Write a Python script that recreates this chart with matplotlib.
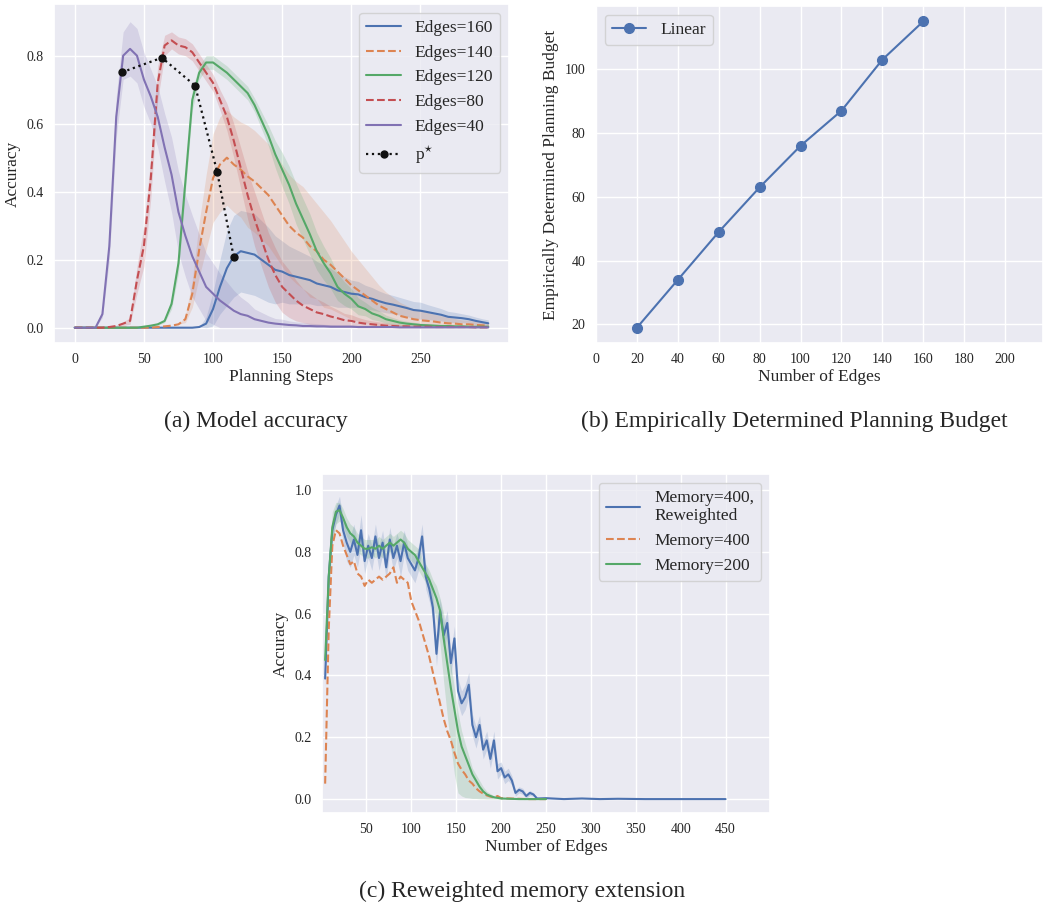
import numpy as np
import matplotlib
matplotlib.use("Agg")
import matplotlib.pyplot as plt
import seaborn as sns

# -----------------------------------------
# Panel (a): accuracy vs planning steps
# -----------------------------------------

steps = np.append(np.arange(0, 300, 5), 299)

acc_e40 = [0, 0, 0, 0, 0.04, 0.24, 0.62, 0.80, 0.82, 0.80,
           0.73, 0.68, 0.62, 0.53, 0.45, 0.34, 0.27, 0.21, 0.165, 0.12,
           0.10, 0.08, 0.065, 0.05, 0.04, 0.035, 0.025, 0.02, 0.015, 0.012,
           0.01, 0.008, 0.007, 0.005, 0.005, 0.004, 0.004, 0.003, 0.003, 0.003,
           0.003, 0.002, 0.002, 0.002, 0.002, 0.002, 0.002, 0.001, 0.001, 0.001,
           0.001, 0.001, 0.001, 0.001, 0.001, 0.001, 0.001, 0.001, 0.001, 0.001,
           0.001]
sd_e40 = [0, 0, 0, 0, 0.01, 0.04, 0.06, 0.07, 0.08, 0.08,
          0.08, 0.08, 0.09, 0.10, 0.11, 0.12, 0.12, 0.12, 0.11, 0.10,
          0.09, 0.08, 0.07, 0.06, 0.05, 0.04, 0.03, 0.025, 0.02, 0.015,
          0.015, 0.012, 0.01, 0.01, 0.008, 0.008, 0.006, 0.006, 0.005, 0.005,
          0.005, 0.004, 0.004, 0.004, 0.003, 0.003, 0.003, 0.003, 0.002, 0.002,
          0.002, 0.002, 0.002, 0.002, 0.002, 0.002, 0.002, 0.002, 0.002, 0.002,
          0.002]

acc_e80 = [0, 0, 0, 0, 0, 0.002, 0.005, 0.012, 0.02, 0.14,
           0.24, 0.44, 0.72, 0.83, 0.845, 0.83, 0.825, 0.81, 0.78, 0.75,
           0.72, 0.67, 0.62, 0.55, 0.47, 0.39, 0.32, 0.26, 0.20, 0.155,
           0.12, 0.10, 0.08, 0.065, 0.055, 0.045, 0.04, 0.033, 0.028, 0.022,
           0.02, 0.015, 0.012, 0.01, 0.008, 0.006, 0.005, 0.004, 0.004, 0.003,
           0.003, 0.003, 0.002, 0.002, 0.002, 0.002, 0.002, 0.002, 0.001, 0.001,
           0.001]
sd_e80 = [0, 0, 0, 0, 0, 0, 0.002, 0.005, 0.01, 0.04,
          0.06, 0.06, 0.05, 0.03, 0.025, 0.025, 0.025, 0.025, 0.025, 0.025,
          0.025, 0.03, 0.04, 0.05, 0.06, 0.07, 0.08, 0.08, 0.08, 0.08,
          0.075, 0.07, 0.06, 0.05, 0.045, 0.04, 0.035, 0.03, 0.025, 0.02,
          0.018, 0.015, 0.012, 0.01, 0.009, 0.008, 0.007, 0.006, 0.005, 0.005,
          0.004, 0.004, 0.004, 0.003, 0.003, 0.003, 0.003, 0.002, 0.002, 0.002,
          0.002]

acc_e120 = [0, 0, 0, 0, 0, 0, 0, 0, 0, 0,
            0.003, 0.006, 0.01, 0.02, 0.07, 0.19, 0.43, 0.67, 0.75, 0.78,
            0.78, 0.765, 0.75, 0.73, 0.71, 0.69, 0.655, 0.61, 0.565, 0.51,
            0.465, 0.42, 0.365, 0.32, 0.275, 0.225, 0.19, 0.16, 0.12, 0.10,
            0.085, 0.063, 0.055, 0.042, 0.035, 0.025, 0.02, 0.015, 0.012, 0.01,
            0.008, 0.007, 0.006, 0.005, 0.005, 0.004, 0.004, 0.003, 0.003, 0.003,
            0.003]
sd_e120 = [0, 0, 0, 0, 0, 0, 0, 0, 0, 0,
           0, 0.002, 0.003, 0.005, 0.015, 0.03, 0.03, 0.03, 0.02, 0.02,
           0.02, 0.02, 0.02, 0.02, 0.02, 0.02, 0.02, 0.025, 0.03, 0.04,
           0.05, 0.055, 0.06, 0.06, 0.06, 0.055, 0.05, 0.045, 0.04, 0.035,
           0.03, 0.025, 0.02, 0.018, 0.015, 0.012, 0.01, 0.008, 0.007, 0.006,
           0.005, 0.005, 0.004, 0.004, 0.004, 0.003, 0.003, 0.003, 0.003, 0.003,
           0.003]

acc_e140 = [0, 0, 0, 0, 0, 0, 0, 0, 0, 0,
            0, 0, 0.002, 0.004, 0.006, 0.01, 0.025, 0.10, 0.23, 0.34,
            0.44, 0.48, 0.50, 0.48, 0.465, 0.445, 0.43, 0.41, 0.39, 0.36,
            0.33, 0.30, 0.28, 0.265, 0.24, 0.225, 0.20, 0.185, 0.165, 0.145,
            0.125, 0.11, 0.095, 0.08, 0.065, 0.055, 0.045, 0.035, 0.03, 0.025,
            0.022, 0.02, 0.018, 0.015, 0.013, 0.012, 0.01, 0.01, 0.008, 0.007,
            0.006]
sd_e140 = [0, 0, 0, 0, 0, 0, 0, 0, 0, 0,
           0, 0, 0, 0, 0, 0, 0.01, 0.04, 0.08, 0.11,
           0.13, 0.14, 0.14, 0.14, 0.14, 0.15, 0.15, 0.15, 0.15, 0.15,
           0.15, 0.15, 0.15, 0.15, 0.15, 0.14, 0.14, 0.13, 0.12, 0.11,
           0.10, 0.09, 0.08, 0.07, 0.06, 0.05, 0.045, 0.04, 0.035, 0.03,
           0.028, 0.025, 0.022, 0.02, 0.018, 0.015, 0.013, 0.012, 0.01, 0.01,
           0.01]

acc_e160 = [0, 0, 0, 0, 0, 0, 0, 0, 0, 0,
            0, 0, 0, 0, 0, 0, 0, 0, 0.002, 0.012,
            0.055, 0.12, 0.175, 0.21, 0.225, 0.22, 0.215, 0.20, 0.185, 0.17,
            0.165, 0.155, 0.15, 0.145, 0.14, 0.13, 0.125, 0.12, 0.11, 0.105,
            0.10, 0.098, 0.09, 0.085, 0.078, 0.072, 0.068, 0.063, 0.058, 0.052,
            0.05, 0.046, 0.042, 0.038, 0.032, 0.03, 0.028, 0.025, 0.02, 0.016,
            0.013]
sd_e160 = [0, 0, 0, 0, 0, 0, 0, 0, 0, 0,
           0, 0, 0, 0, 0, 0, 0, 0, 0, 0.02,
           0.05, 0.08, 0.11, 0.12, 0.12, 0.12, 0.12, 0.115, 0.11, 0.10,
           0.09, 0.085, 0.08, 0.075, 0.07, 0.065, 0.06, 0.055, 0.05, 0.045,
           0.04, 0.038, 0.035, 0.033, 0.03, 0.028, 0.027, 0.026, 0.025, 0.025,
           0.025, 0.022, 0.02, 0.018, 0.016, 0.015, 0.013, 0.012, 0.011, 0.01,
           0.01]

pstar_steps = [34, 63, 87, 103, 115]
pstar_acc = [0.751, 0.794, 0.712, 0.458, 0.207]

# -----------------------------------------
# Panel (b): planning budget vs edges
# -----------------------------------------

n_edges = [20, 40, 60, 80, 100, 120, 140, 160]
budget = [19, 34, 49, 63, 76, 87, 103, 115]

# -----------------------------------------
# Panel (c): memory extension
# -----------------------------------------

edges_rw = [4, 8, 12, 16, 20, 24, 28, 32, 36, 40, 44, 48, 52, 56, 60, 64,
            68, 72, 76, 80, 84, 88, 92, 96, 100, 104, 108, 112, 116, 120,
            124, 128, 132, 136, 140, 144, 148, 152, 156, 160, 164, 168, 172,
            176, 180, 184, 188, 192, 196, 200, 204, 208, 212, 216, 220, 224,
            228, 232, 236, 240, 250, 270, 290, 310, 330, 360, 400, 450]
acc_rw = [0.39, 0.72, 0.87, 0.92, 0.95, 0.87, 0.83, 0.80, 0.84, 0.79, 0.87,
          0.77, 0.82, 0.78, 0.85, 0.78, 0.83, 0.75, 0.84, 0.78, 0.82, 0.77,
          0.83, 0.78, 0.76, 0.74, 0.78, 0.85, 0.72, 0.68, 0.62, 0.47, 0.61,
          0.53, 0.57, 0.44, 0.52, 0.35, 0.31, 0.33, 0.37, 0.24, 0.20, 0.24,
          0.16, 0.19, 0.13, 0.19, 0.09, 0.10, 0.07, 0.08, 0.06, 0.02, 0.03,
          0.025, 0.01, 0.02, 0.015, 0.002, 0.003, 0.0, 0.002, 0.0, 0.001,
          0.0, 0.0, 0.0]
sd_rw = [0.03, 0.04, 0.03, 0.03, 0.03, 0.04, 0.06, 0.05, 0.05, 0.04, 0.05,
         0.04, 0.04, 0.04, 0.04, 0.04, 0.04, 0.04, 0.04, 0.04, 0.04, 0.05,
         0.04, 0.04, 0.04, 0.04, 0.04, 0.04, 0.04, 0.04, 0.04, 0.04, 0.04,
         0.04, 0.04, 0.04, 0.04, 0.04, 0.04, 0.04, 0.04, 0.035, 0.035, 0.03,
         0.03, 0.03, 0.03, 0.03, 0.025, 0.02, 0.02, 0.02, 0.015, 0.01, 0.01,
         0.01, 0.008, 0.008, 0.006, 0.003, 0.002, 0.0, 0.001, 0.0, 0.0,
         0.0, 0.0, 0.0]

edges_mem = [4, 8, 12, 16, 20, 24, 28, 32, 36, 40, 44, 48, 52, 56, 60, 64,
             68, 72, 76, 80, 84, 88, 92, 96, 100, 104, 108, 112, 116, 120,
             124, 128, 132, 136, 140, 144, 148, 152, 156, 160, 164, 168, 172,
             176, 180, 184, 188, 192, 196, 200, 210, 220, 230, 240, 250]
acc_m400 = [0.05, 0.55, 0.82, 0.87, 0.86, 0.82, 0.79, 0.76, 0.77, 0.73,
            0.72, 0.69, 0.71, 0.70, 0.71, 0.72, 0.71, 0.72, 0.73, 0.75,
            0.70, 0.72, 0.71, 0.70, 0.64, 0.61, 0.58, 0.54, 0.50, 0.46,
            0.41, 0.36, 0.31, 0.26, 0.22, 0.19, 0.15, 0.115, 0.095, 0.08,
            0.06, 0.05, 0.035, 0.025, 0.018, 0.012, 0.008, 0.005, 0.01, 0.003,
            0.002, 0.001, 0.0, 0.0, 0.0]
acc_m200 = [0.45, 0.72, 0.88, 0.93, 0.935, 0.91, 0.88, 0.86, 0.85, 0.83,
            0.82, 0.81, 0.81, 0.815, 0.81, 0.82, 0.81, 0.82, 0.83, 0.82,
            0.83, 0.84, 0.83, 0.81, 0.80, 0.79, 0.77, 0.75, 0.73, 0.71,
            0.68, 0.65, 0.61, 0.52, 0.44, 0.36, 0.29, 0.22, 0.17, 0.14,
            0.11, 0.08, 0.06, 0.04, 0.025, 0.015, 0.01, 0.006, 0.004, 0.002,
            0.001, 0.0, 0.0, 0.0, 0.0]
lo_m200 = [0.40, 0.66, 0.83, 0.89, 0.90, 0.88, 0.85, 0.83, 0.82, 0.80,
           0.79, 0.78, 0.78, 0.79, 0.78, 0.79, 0.78, 0.79, 0.80, 0.79,
           0.80, 0.81, 0.80, 0.78, 0.77, 0.76, 0.74, 0.72, 0.70, 0.67,
           0.63, 0.58, 0.50, 0.38, 0.27, 0.17, 0.08, 0.02, 0.01, 0.005,
           0.004, 0.002, 0.002, 0.001, 0.001, 0.0, 0.0, 0.0, 0.0, 0.0,
           0.0, 0.0, 0.0, 0.0, 0.0]
hi_m200 = [0.50, 0.78, 0.93, 0.96, 0.96, 0.94, 0.91, 0.89, 0.88, 0.86,
           0.85, 0.84, 0.84, 0.84, 0.84, 0.85, 0.84, 0.85, 0.86, 0.85,
           0.86, 0.87, 0.86, 0.84, 0.83, 0.82, 0.81, 0.78, 0.76, 0.74,
           0.71, 0.69, 0.65, 0.60, 0.52, 0.44, 0.36, 0.28, 0.22, 0.18,
           0.14, 0.10, 0.08, 0.06, 0.04, 0.025, 0.018, 0.01, 0.008, 0.005,
           0.003, 0.001, 0.0, 0.0, 0.0]

# -----------------------------------------
# Style
# -----------------------------------------

sns.set_theme(style="darkgrid")
plt.rcParams["font.family"] = ["Liberation Serif", "DejaVu Serif"]
plt.rcParams["mathtext.fontset"] = "stix"
plt.rcParams["xtick.labelsize"] = 10
plt.rcParams["ytick.labelsize"] = 10
plt.rcParams["axes.labelsize"] = 12.5
plt.rcParams["legend.fontsize"] = 12.5
plt.rcParams["xtick.major.size"] = 0
plt.rcParams["ytick.major.size"] = 0
plt.rcParams["xtick.major.pad"] = 7.5
plt.rcParams["ytick.major.pad"] = 7.5

pal = sns.color_palette("deep")
c_blue, c_orange, c_green, c_red, c_purple = pal[0], pal[1], pal[2], pal[3], pal[4]

fig = plt.figure(figsize=(10.45, 9.02), dpi=100)


def band(ax, x, m, s, color):
    m = np.array(m)
    s = np.array(s)
    ax.fill_between(x, np.clip(m - s, 0, 1), np.clip(m + s, 0, 1),
                    color=color, alpha=0.2, linewidth=0)


# -----------------------------------------
# (a) Model accuracy
# -----------------------------------------

ax1 = fig.add_axes([54 / 1045, 1 - 343 / 902, 455 / 1045, 339 / 902])
curves = [
    (acc_e160, sd_e160, c_blue, "-", "Edges=160"),
    (acc_e140, sd_e140, c_orange, "--", "Edges=140"),
    (acc_e120, sd_e120, c_green, "-", "Edges=120"),
    (acc_e80, sd_e80, c_red, "--", "Edges=80"),
    (acc_e40, sd_e40, c_purple, "-", "Edges=40"),
]
for m, s, col, ls, lab in curves:
    band(ax1, steps, m, s, col)
    ax1.plot(steps, m, color=col, linestyle=ls, linewidth=1.5, label=lab)

ax1.plot(pstar_steps, pstar_acc, color="#111111", linestyle=":", linewidth=1.6,
         marker="o", markersize=5, label=r"p$^{\star}$")
ax1.set_xlim(-15, 314)
ax1.set_ylim(-0.045, 0.952)
ax1.set_xticks([0, 50, 100, 150, 200, 250])
ax1.set_yticks([0.0, 0.2, 0.4, 0.6, 0.8])
ax1.set_xlabel("Planning Steps", labelpad=2)
ax1.set_ylabel("Accuracy")
ax1.legend(loc="upper right")

# -----------------------------------------
# (b) Planning budget
# -----------------------------------------

ax2 = fig.add_axes([596 / 1045, 1 - 343 / 902, 447 / 1045, 337 / 902])
ax2.plot(n_edges, budget, color=c_blue, marker="o", markersize=7,
         linewidth=1.5, label="Linear")
ax2.set_xlim(0, 218.5)
ax2.set_ylim(14.2, 119.8)
ax2.set_xticks(range(0, 201, 20))
ax2.set_yticks([20, 40, 60, 80, 100])
ax2.set_xlabel("Number of Edges", labelpad=2)
ax2.set_ylabel("Empirically Determined Planning Budget")
ax2.legend(loc="upper left")

# -----------------------------------------
# (c) Reweighted memory extension
# -----------------------------------------

ax3 = fig.add_axes([322 / 1045, 1 - 813 / 902, 448 / 1045, 339 / 902])
band(ax3, edges_rw, acc_rw, sd_rw, c_blue)
ax3.fill_between(edges_mem, lo_m200, hi_m200, color=c_green, alpha=0.2,
                 linewidth=0)
ax3.plot(edges_rw, acc_rw, color=c_blue, linewidth=1.5,
         label="Memory=400,\nReweighted")
ax3.plot(edges_mem, acc_m400, color=c_orange, linestyle="--", linewidth=1.5,
         label="Memory=400")
ax3.plot(edges_mem, acc_m200, color=c_green, linewidth=1.5,
         label="Memory=200")
ax3.set_xlim(0.5, 499.5)
ax3.set_ylim(-0.045, 1.052)
ax3.set_xticks(range(50, 451, 50))
ax3.set_yticks([0.0, 0.2, 0.4, 0.6, 0.8, 1.0])
ax3.set_xlabel("Number of Edges", labelpad=2)
ax3.set_ylabel("Accuracy")
ax3.legend(loc="upper right")

# -----------------------------------------
# Captions
# -----------------------------------------

fig.text(256 / 1045, 1 - 421 / 902, "(a) Model accuracy",
         ha="center", va="center", fontsize=17)
fig.text(794 / 1045, 1 - 421 / 902, "(b) Empirically Determined Planning Budget",
         ha="center", va="center", fontsize=17)
fig.text(522 / 1045, 1 - 891 / 902, "(c) Reweighted memory extension",
         ha="center", va="center", fontsize=17)

fig.savefig("out.png", dpi=100)
print("Saved out.png")
